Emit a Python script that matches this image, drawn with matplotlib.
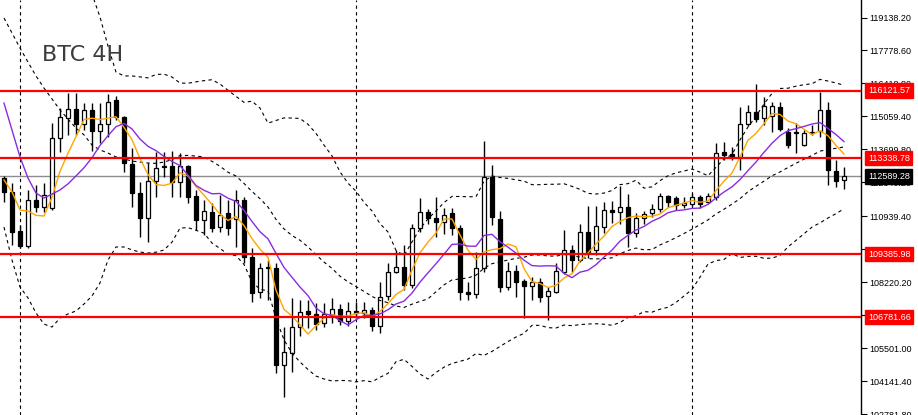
import numpy as np
import pandas as pd
import matplotlib
matplotlib.use("Agg")
import matplotlib.pyplot as plt
import matplotlib.transforms as mtransforms

# ---- datos de velas (4H) ----
open_ = [112520, 111950, 110340, 109720, 111620, 111330, 111290, 114170, 115000, 115370,
         114750, 115330, 114460, 114750, 115740, 115040, 113100, 111900, 110870, 112400,
         113020, 113020, 112360, 113020, 111780, 110790, 111120, 110500, 111080, 110830,
         111620, 109270, 107820, 108850, 108810, 104810, 105310, 106380, 107040, 106920,
         106550, 106830, 107120, 106630, 107040, 106960, 107080, 106420, 107660, 108650,
         108850, 108110, 110460, 111120, 110870, 110710, 111080, 110460, 107820, 107740,
         108810, 112560, 110830, 108030, 108690, 108280, 108070, 108240, 107660, 107820,
         108650, 109560, 109140, 110300, 109560, 110500, 111200, 111120, 111330, 110260,
         110870, 111080, 111250, 111780, 111700, 111410, 111450, 111740, 111530, 111740,
         113590, 113510, 113390, 114750, 115240, 115000, 115080, 115450, 114420, 114420,
         113880, 114420, 114460, 115330, 112810, 112440]
high = [112610, 112320, 110590, 112030, 112230, 112320, 114790, 115410, 116030, 116030,
        115610, 115610, 115610, 115990, 115900, 115080, 113760, 112360, 113140, 113590,
        113590, 113640, 113550, 113060, 112030, 111620, 111490, 111820, 111620, 112030,
        111740, 109640, 109020, 109140, 109020, 106380, 107580, 107490, 107490, 107370,
        107370, 107580, 107330, 107410, 107410, 107410, 107210, 108240, 109020, 109560,
        109760, 110630, 111700, 111250, 111740, 111290, 111290, 110590, 108240, 109470,
        114050, 113060, 111160, 109060, 108940, 108360, 108440, 108400, 108030, 109020,
        110380, 109760, 110630, 111370, 111370, 111530, 111570, 112190, 111860, 111080,
        111160, 111450, 111900, 111820, 111780, 111740, 111900, 111820, 111900, 113970,
        114010, 113800, 115450, 115530, 116400, 115860, 115660, 115660, 114580, 114790,
        114500, 114710, 116070, 115660, 113260, 112980]
low = [111530, 109760, 109640, 109640, 111120, 111120, 111200, 113590, 114300, 114300,
       114500, 113640, 113970, 114210, 114910, 112770, 111330, 110090, 109880, 111740,
       112560, 111740, 111740, 111490, 110380, 110170, 110300, 110300, 110170, 109680,
       109020, 107410, 107580, 107490, 104490, 103500, 104530, 106010, 106340, 106260,
       106380, 106550, 106460, 106420, 106750, 106750, 106220, 106130, 107490, 108610,
       107910, 107990, 110300, 110630, 110090, 110210, 110170, 107490, 107490, 107580,
       108650, 110590, 107820, 107910, 107620, 106750, 107490, 107410, 106670, 107780,
       108570, 108650, 109060, 109230, 109350, 110260, 110670, 110630, 109680, 110090,
       110630, 110920, 111120, 111330, 111200, 111290, 111370, 111290, 111490, 111620,
       113260, 113260, 112850, 114670, 114830, 114710, 114420, 114460, 113760, 113550,
       113840, 114300, 114210, 112230, 112150, 112070]
close_ = [111950, 110300, 109720, 111620, 111330, 111820, 114170, 115040, 115370, 114750,
          115330, 114460, 114750, 115660, 115040, 113140, 111900, 110870, 112400, 112940,
          112980, 112360, 113020, 111740, 110790, 111160, 110460, 111000, 110460, 111620,
          109270, 107780, 108810, 108810, 104810, 105350, 106380, 107000, 106920, 106500,
          106920, 107120, 106630, 107040, 106960, 107080, 106420, 107620, 108650, 108850,
          108110, 110460, 111120, 110870, 110710, 111000, 110460, 107820, 107740, 108810,
          112560, 110920, 108030, 108690, 108240, 108070, 108240, 107620, 107870, 108690,
          109560, 109140, 110300, 109470, 110540, 111200, 111120, 111330, 110260, 110870,
          111040, 111250, 111780, 111530, 111410, 111490, 111740, 111450, 111780, 113550,
          113470, 113390, 114750, 115240, 114950, 115490, 115490, 114540, 113880, 114380,
          114380, 114380, 115330, 112850, 112400, 112589.28]

ma5_warm = [112440, 111950, 111200, 111160]
ma10_warm = [115610, 114500, 113390, 112520, 111900, 111700, 111860, 112030, 112280]
bb_mid_warm = [119118, 118500, 117880, 117300, 116730, 116230, 115780, 115330, 114950, 114580,
               114300, 113880, 113680, 113550, 113390, 113310, 113220, 113180, 113140]
bb_low_warm = [110500, 109140, 108030, 107580, 106960, 106500, 106380, 106750, 106920, 107040,
               107330, 107660, 108200, 109140, 109680, 109680, 109560, 109470, 109430]
bb_up_warm = [np.nan] * 11 + [120110, 119160, 117960, 116890, 116730, 116730, 116690, 116650]

# niveles horizontales y eje
niveles = [116121.57, 113338.78, 109385.98, 106781.66]
precio_actual = 112589.28
ticks = [119138.20, 117778.60, 116418.80, 115059.40, 113699.80, 112340.20, 110939.40,
         109579.80, 108220.20, 106860.60, 105501.00, 104141.40, 102781.80]
separadores = [2, 44, 86]
titulo = "BTC 4H"

#################
# Indicadores   #
#################
c = pd.Series(close_)
ma5 = c.rolling(5).mean().to_numpy()
ma5[:4] = ma5_warm
ma10 = c.rolling(10).mean().to_numpy()
ma10[:9] = ma10_warm
mid = c.rolling(20).mean().to_numpy()
sd = c.rolling(20).std(ddof=0).to_numpy()
up = mid + 2 * sd
lo = mid - 2 * sd
mid[:19] = bb_mid_warm
lo[:19] = bb_low_warm
up[:19] = bb_up_warm

#################
# Figura        #
#################
fig = plt.figure(figsize=(9.18, 4.15), dpi=100)
ax = fig.add_axes([0, 0, 861 / 918, 1])
ax.set_facecolor("white")

x = np.arange(len(close_))
o = np.array(open_, dtype=float)
cl = np.array(close_, dtype=float)

# mechas y cuerpos
ax.vlines(x, low, high, color="black", lw=1, zorder=3)
sube = cl >= o
cuerpo_ini = np.minimum(o, cl)
cuerpo_alto = np.abs(cl - o)
ax.bar(x, cuerpo_alto, bottom=cuerpo_ini, width=0.6,
       color=np.where(sube, "white", "black"), edgecolor="black", linewidth=0.9, zorder=4)

# bandas de bollinger
guion = (0, (3, 3))
for serie in (up, mid, lo):
    ax.plot(x, serie, color="black", lw=0.8, ls=guion, zorder=5)

# medias moviles
ax.plot(x, ma5, color="#FFA500", lw=1, zorder=6)
ax.plot(x, ma10, color="#8A2BE2", lw=1, zorder=6)

# separadores semanales
for s in separadores:
    ax.axvline(s, color="black", lw=0.8, ls=guion, zorder=2)

# precio actual
ax.axhline(precio_actual, color="#8c8c8c", lw=1, zorder=2)

# niveles
for n in niveles:
    ax.axhline(n, color="#ff0000", lw=1.6, zorder=7)

ax.set_xlim(-0.5, 107.125)
ax.set_ylim(102754, 119860)

ax.yaxis.tick_right()
ax.set_yticks(ticks)
ax.set_yticklabels([f"{t:.2f}" for t in ticks], family="Liberation Sans")
ax.tick_params(axis="y", labelsize=6.5, length=4, width=0.8, pad=2, direction="out")
ax.set_xticks([])
for lado in ("left", "top", "bottom"):
    ax.spines[lado].set_visible(False)
ax.spines["right"].set_linewidth(1)

trans = mtransforms.blended_transform_factory(ax.transAxes, ax.transData)
for n in niveles:
    ax.text(1.008, n, f"{n:.2f}", transform=trans, ha="left", va="center",
            fontsize=6.5, family="Liberation Sans", color="white", zorder=10, clip_on=False,
            bbox=dict(boxstyle="square,pad=0.3", fc="#ff0000", ec="#ff0000"))
ax.text(1.008, precio_actual, f"{precio_actual:.2f}", transform=trans, ha="left", va="center",
        fontsize=6.5, family="Liberation Sans", color="white", zorder=10, clip_on=False,
        bbox=dict(boxstyle="square,pad=0.3", fc="black", ec="black"))

fig.text(42 / 918, 1 - 61 / 415, titulo, fontsize=16, color="#3c3c3c", va="baseline")

fig.savefig("out.png", dpi=100)
plt.close(fig)
